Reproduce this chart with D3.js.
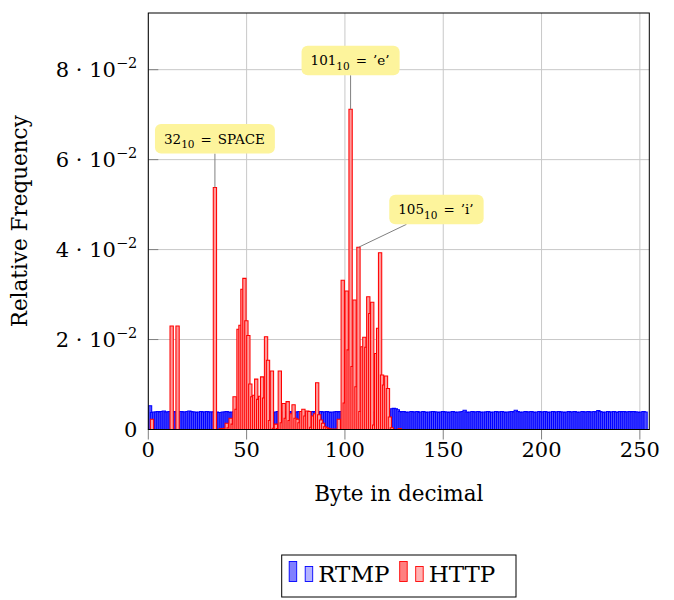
<!DOCTYPE html>
<html>
<head>
<meta charset="utf-8">
<script src="https://cdn.jsdelivr.net/npm/d3@7"></script>
<style>
  body { margin: 0; background: #fff; }
  svg text { font-family: "DejaVu Serif", "Liberation Serif", serif; fill: #000; }
</style>
</head>
<body>
<div id="chart"></div>
<script>
// 字节 0..255 的相对频率
const rtmpValues = [
  0.0053, 0.0038, 0.0039, 0.0039, 0.0040, 0.0039, 0.0040, 0.0041, 0.0039, 0.0039, 0.0040, 0.0038, 0.0040, 0.0039, 0.0039, 0.0040,
  0.0040, 0.0039, 0.0039, 0.0040, 0.0041, 0.0040, 0.0039, 0.0039, 0.0038, 0.0039, 0.0040, 0.0039, 0.0039, 0.0040, 0.0039, 0.0039,
  0.0039, 0.0040, 0.0039, 0.0038, 0.0038, 0.0039, 0.0039, 0.0040, 0.0039, 0.0038, 0.0039, 0.0040, 0.0039, 0.0038, 0.0039, 0.0039,
  0.0040, 0.0039, 0.0040, 0.0039, 0.0038, 0.0039, 0.0040, 0.0039, 0.0039, 0.0040, 0.0039, 0.0039, 0.0040, 0.0041, 0.0039, 0.0038,
  0.0039, 0.0040, 0.0039, 0.0039, 0.0038, 0.0039, 0.0040, 0.0040, 0.0039, 0.0038, 0.0039, 0.0039, 0.0040, 0.0039, 0.0038, 0.0039,
  0.0040, 0.0039, 0.0039, 0.0040, 0.0039, 0.0038, 0.0039, 0.0040, 0.0039, 0.0039, 0.0040, 0.0039, 0.0038, 0.0039, 0.0039, 0.0040,
  0.0039, 0.0040, 0.0039, 0.0039, 0.0040, 0.0039, 0.0038, 0.0039, 0.0040, 0.0039, 0.0039, 0.0038, 0.0039, 0.0040, 0.0039, 0.0039,
  0.0040, 0.0039, 0.0038, 0.0039, 0.0039, 0.0040, 0.0039, 0.0039, 0.0040, 0.0039, 0.0041, 0.0046, 0.0047, 0.0046, 0.0044, 0.0040,
  0.0039, 0.0040, 0.0039, 0.0038, 0.0039, 0.0040, 0.0039, 0.0039, 0.0040, 0.0038, 0.0039, 0.0040, 0.0039, 0.0038, 0.0039, 0.0039,
  0.0040, 0.0039, 0.0039, 0.0038, 0.0039, 0.0040, 0.0039, 0.0039, 0.0038, 0.0039, 0.0040, 0.0039, 0.0038, 0.0039, 0.0039, 0.0040,
  0.0043, 0.0039, 0.0038, 0.0039, 0.0040, 0.0039, 0.0039, 0.0040, 0.0039, 0.0038, 0.0039, 0.0039, 0.0040, 0.0039, 0.0038, 0.0039,
  0.0040, 0.0039, 0.0039, 0.0040, 0.0039, 0.0038, 0.0039, 0.0039, 0.0040, 0.0039, 0.0043, 0.0040, 0.0039, 0.0038, 0.0039, 0.0040,
  0.0039, 0.0039, 0.0040, 0.0039, 0.0038, 0.0039, 0.0040, 0.0039, 0.0039, 0.0040, 0.0039, 0.0038, 0.0039, 0.0040, 0.0039, 0.0039,
  0.0040, 0.0039, 0.0039, 0.0038, 0.0039, 0.0040, 0.0039, 0.0039, 0.0040, 0.0039, 0.0038, 0.0039, 0.0040, 0.0039, 0.0039, 0.0040,
  0.0039, 0.0039, 0.0040, 0.0039, 0.0042, 0.0040, 0.0039, 0.0038, 0.0039, 0.0040, 0.0039, 0.0039, 0.0040, 0.0039, 0.0038, 0.0040,
  0.0039, 0.0040, 0.0039, 0.0039, 0.0040, 0.0039, 0.0040, 0.0039, 0.0039, 0.0038, 0.0039, 0.0040, 0.0039
];

const httpValues = [
  0.0023, 0, 0, 0, 0, 0, 0, 0, 0, 0, 0.0230, 0, 0, 0.0230, 0, 0,
  0, 0, 0, 0, 0, 0, 0, 0, 0, 0, 0, 0, 0, 0, 0, 0,
  0.0538, 0, 0, 0.0002, 0.0001, 0.0003, 0.0014, 0.0004, 0.0025, 0.0012, 0.0073, 0.0045, 0.0223, 0.0232, 0.0312, 0.0336,
  0.0242, 0.0209, 0.0101, 0.0073, 0.0076, 0.0112, 0.0067, 0.0074, 0.0117, 0.0070, 0.0206, 0.0154, 0.0020, 0.0130, 0.0003, 0.0012,
  0.0002, 0.0130, 0.0015, 0.0058, 0.0025, 0.0062, 0.0020, 0.0035, 0.0055, 0.0025, 0.0023, 0.0015, 0.0040, 0.0045, 0.0030, 0.0041,
  0.0040, 0.0005, 0.0030, 0.0035, 0.0104, 0.0033, 0.0021, 0.0014, 0.0006, 0.0004, 0.0002, 0.0001, 0, 0.0001, 0, 0.0023,
  0, 0.0332, 0.0059, 0.0308, 0.0177, 0.0712, 0.0140, 0.0288, 0.0095, 0.0405, 0.0040, 0.0184, 0.0205, 0.0183, 0.0295, 0.0258,
  0.0283, 0.0010, 0.0169, 0.0225, 0.0393, 0.0121, 0.0099, 0.0119, 0.0091, 0.0028, 0.0004, 0, 0, 0, 0.0002, 0,
  0, 0, 0, 0, 0, 0, 0, 0, 0, 0, 0, 0, 0, 0, 0, 0,
  0, 0, 0, 0, 0, 0, 0, 0, 0, 0, 0, 0, 0, 0, 0, 0,
  0, 0, 0, 0, 0, 0, 0, 0, 0, 0, 0, 0, 0, 0, 0, 0,
  0, 0, 0, 0, 0, 0, 0, 0, 0, 0, 0, 0, 0, 0, 0, 0,
  0, 0, 0, 0, 0, 0, 0, 0, 0, 0, 0, 0, 0, 0, 0, 0,
  0, 0, 0, 0, 0, 0, 0, 0, 0, 0, 0, 0, 0, 0, 0, 0,
  0, 0, 0, 0, 0, 0, 0, 0, 0, 0, 0, 0, 0, 0, 0, 0,
  0, 0, 0, 0, 0, 0, 0, 0, 0, 0, 0, 0, 0, 0, 0, 0
];

const xTicks = [0, 50, 100, 150, 200, 250];
const yTicks = [0, 0.02, 0.04, 0.06, 0.08];
const yTickMantissa = ['0', '2', '4', '6', '8'];

const seriesNames = ['RTMP', 'HTTP'];
const seriesColors = ['#0000ff', '#ff0000'];
const seriesFills = ['#5252ff', '#ff9a9a'];
const legendFills = ['#8080ff', '#ff8080'];
const legendFills2 = ['#b3b3ff', '#ffb3b3'];

// 标注：字节、底数文字、右侧文字
const noteBytes = [32, 101, 105];
const noteMain = ['32', '101', '105'];
const noteRest = ['SPACE', '\u2019e\u2019', '\u2019i\u2019'];

// 基本配置
const margin = {top: 13, left: 148.3},
      width = 501,
      height = 416.5;

const svg = d3.select('#chart')
              .append('svg')
              .attr('width', 674)
              .attr('height', 600);

const g = svg.append('g')
             .attr('transform', `translate(${margin.left},${margin.top})`);

const x = d3.scaleLinear().domain([0, 254.8]).range([0, width]);
const y = d3.scaleLinear().domain([0, 0.0926]).range([height, 0]);

// 网格线
g.append('g')
 .selectAll('line')
 .data(xTicks)
 .join('line')
 .attr('x1', d => x(d)).attr('x2', d => x(d))
 .attr('y1', 0).attr('y2', height)
 .attr('stroke', '#c8c8c8');
g.append('g')
 .selectAll('line')
 .data(yTicks)
 .join('line')
 .attr('x1', 0).attr('x2', width)
 .attr('y1', d => y(d)).attr('y2', d => y(d))
 .attr('stroke', '#c8c8c8');

// 裁剪区域
svg.append('clipPath').attr('id', 'plotClip')
   .append('rect').attr('width', width).attr('height', height + 1);

const barWidth = 3.3;
const barShift = [1.75, 3.7];

function barPath(v, i, shift) {
    const x0 = x(i) + shift - barWidth / 2;
    const y0 = y(0), y1 = y(v);
    return `M${x0},${y0}V${y1}H${x0 + barWidth}V${y0}Z`;
}

const bars = g.append('g').attr('clip-path', 'url(#plotClip)');
[rtmpValues, httpValues].forEach((values, s) => {
    bars.append('g')
        .selectAll('path')
        .data(values)
        .join('path')
        .attr('d', (v, i) => barPath(v, i, barShift[s]))
        .attr('fill', seriesFills[s])
        .attr('stroke', seriesColors[s])
        .attr('stroke-width', 1.05);
});

// 刻度线
g.append('g')
 .selectAll('line')
 .data(xTicks)
 .join('line')
 .attr('x1', d => x(d)).attr('x2', d => x(d))
 .attr('y1', height).attr('y2', height + 10)
 .attr('stroke', '#808080');
g.append('g')
 .selectAll('line')
 .data(yTicks)
 .join('line')
 .attr('x1', 0).attr('x2', 10)
 .attr('y1', d => y(d)).attr('y2', d => y(d))
 .attr('stroke', '#808080');

// 坐标框
g.append('rect')
 .attr('width', width).attr('height', height)
 .attr('fill', 'none').attr('stroke', '#000').attr('stroke-width', 1);

// X 轴刻度文字
g.append('g')
 .selectAll('text')
 .data(xTicks)
 .join('text')
 .attr('x', d => x(d))
 .attr('y', height + 27)
 .attr('text-anchor', 'middle')
 .attr('font-size', 21)
 .text(d => d);

// Y 轴刻度文字
const yLabels = g.append('g')
 .selectAll('text')
 .data(yTicks)
 .join('text')
 .attr('x', -11)
 .attr('y', d => y(d) + 7.5)
 .attr('text-anchor', 'end')
 .attr('font-size', 21);
yLabels.each(function(d, i) {
    const t = d3.select(this);
    if (d === 0) { t.text('0'); return; }
    t.append('tspan').text(yTickMantissa[i] + ' \u00b7 10');
    t.append('tspan').attr('dy', -9).attr('font-size', 14.5).text('\u22122');
});

// 轴标题
g.append('text')
 .attr('x', width / 2)
 .attr('y', height + 71)
 .attr('text-anchor', 'middle')
 .attr('font-size', 21.5)
 .text('Byte in decimal');
g.append('text')
 .attr('transform', `translate(${-121},${height / 2}) rotate(-90)`)
 .attr('text-anchor', 'middle')
 .attr('font-size', 21.5)
 .text('Relative Frequency');

// 标注
const pinOffsets = [[0, -34], [0, -34], [48, -23]];
noteBytes.forEach((b, k) => {
    const bx = x(b) + barShift[1];
    const by = y(httpValues[b]);
    const px = bx + pinOffsets[k][0];
    const py = by + pinOffsets[k][1];
    g.append('line')
     .attr('x1', bx).attr('y1', by)
     .attr('x2', px).attr('y2', py)
     .attr('stroke', '#808080').attr('stroke-width', 1);

    const note = g.append('g');
    const txt = note.append('text')
                    .attr('font-size', 13.5)
                    .attr('text-anchor', 'start');
    txt.append('tspan').text(noteMain[k]);
    txt.append('tspan').attr('dy', 4.5).attr('font-size', 10.5).text('10');
    txt.append('tspan').attr('dy', -4.5).attr('dx', 6).text('=');
    txt.append('tspan').attr('dx', 6).text(noteRest[k]);
    const box = txt.node().getBBox();
    const bw = box.width + 19, bh = 29.5;
    const cx = k === 2 ? px + 30 : px;
    const left = cx - bw / 2, top = py - bh;
    txt.attr('x', left + 9).attr('y', top + 19.5);
    note.insert('rect', 'text')
        .attr('x', left).attr('y', top)
        .attr('width', bw).attr('height', bh)
        .attr('rx', 6)
        .attr('fill', '#fdf49c');
});

// 图例
const legend = svg.append('g').attr('transform', 'translate(281.7,555)');
legend.append('rect')
      .attr('width', 234.3).attr('height', 42)
      .attr('fill', '#fff').attr('stroke', '#000').attr('stroke-width', 1);
const legendX = [7.5, 118];
seriesNames.forEach((name, s) => {
    const lx = legendX[s];
    legend.append('rect')
          .attr('x', lx).attr('y', 6.5).attr('width', 7.5).attr('height', 20)
          .attr('fill', legendFills[s])
          .attr('stroke', seriesColors[s]).attr('stroke-width', 0.9);
    legend.append('rect')
          .attr('x', lx + 16).attr('y', 11.5).attr('width', 7.5).attr('height', 15)
          .attr('fill', legendFills2[s])
          .attr('stroke', seriesColors[s]).attr('stroke-width', 0.9);
    legend.append('text')
          .attr('x', lx + 29).attr('y', 27)
          .attr('font-size', 23)
          .text(name);
});
</script>
</body>
</html>
